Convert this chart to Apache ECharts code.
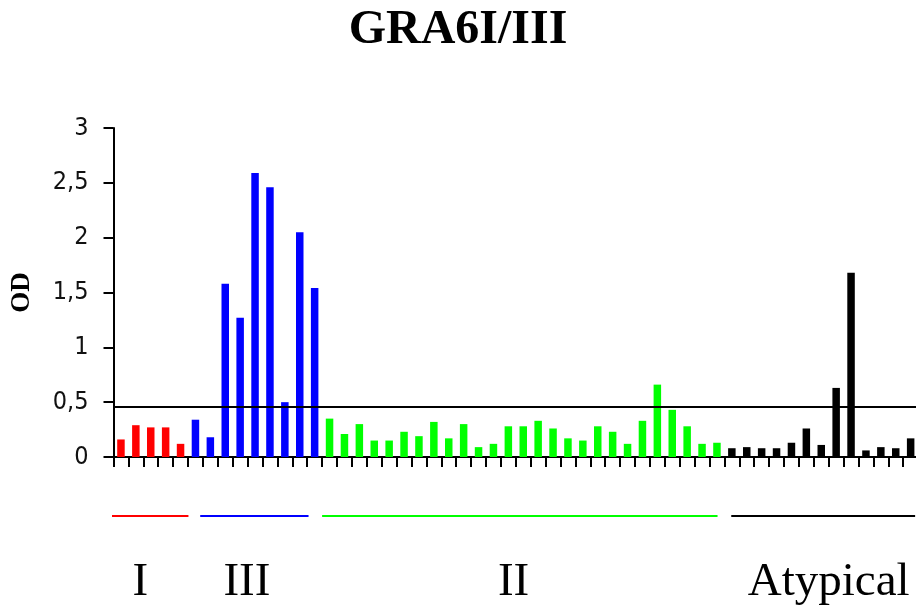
<!DOCTYPE html>
<html>
<head>
<meta charset="utf-8">
<script src="https://cdn.jsdelivr.net/npm/echarts@6/dist/echarts.min.js"></script>
<style>html,body{margin:0;padding:0;background:#fff}#c{width:916px;height:609px}</style>
</head>
<body>
<div id="c"></div>
<script>
// ---- data ----
const title = 'GRA6I/III';
const yName = 'OD';
const groupNames = ['I', 'III', 'II', 'Atypical'];
const groupColors = ['#ff0000', '#0000ff', '#00ff00', '#000000'];
const groupI = [0.16, 0.29, 0.27, 0.27, 0.12];
const groupIII = [0.34, 0.18, 1.58, 1.27, 2.59, 2.46, 0.50, 2.05, 1.54];
const groupII = [0.35, 0.21, 0.30, 0.15, 0.15, 0.23, 0.19, 0.32, 0.17, 0.30,
                 0.09, 0.12, 0.28, 0.28, 0.33, 0.26, 0.17, 0.15, 0.28, 0.23,
                 0.12, 0.33, 0.66, 0.43, 0.28, 0.12, 0.13];
const groupAtypical = [0.08, 0.09, 0.08, 0.08, 0.13, 0.26, 0.11, 0.63, 1.68, 0.06, 0.09, 0.08, 0.17];
const threshold = 0.462;
const yTicks = { min: 0, max: 3, interval: 0.5 };
// bracket extents below the axis, in category units (from axis start)
const bracketStart = [-0.2, 5.82, 14.0, 41.46];
const bracketEnd = [5.03, 13.09, 40.54, 53.8];
const groupLabelPos = [1.8, 8.95, 26.85, 48.0];

// ---- build ----
const groups = [groupI, groupIII, groupII, groupAtypical];
const categories = [];
const barData = [];
groups.forEach((g, gi) => {
  g.forEach((v, i) => {
    categories.push(groupNames[gi] + '-' + (i + 1));
    barData.push({ value: v, itemStyle: { color: groupColors[gi] } });
  });
});
const nCat = categories.length;

const gridLeft = 113.5, cellW = 14.9;
const chart = echarts.init(document.getElementById('c'), null, { renderer: 'canvas' });

const bracketSeries = groupNames.map((n, gi) => ({
  type: 'line', xAxisIndex: 1, yAxisIndex: 1, silent: true,
  symbol: 'none', animation: false,
  data: [[bracketStart[gi], 16], [bracketEnd[gi], 16]],
  lineStyle: { color: groupColors[gi], width: 2 }
}));

chart.setOption({
  animation: false,
  backgroundColor: '#ffffff',
  title: {
    text: title, left: 'center', top: 2,
    textStyle: { fontFamily: "'Liberation Serif','Times New Roman',serif", fontWeight: 'bold', fontSize: 48, color: '#000' }
  },
  grid: [
    { left: gridLeft, top: 128, width: nCat * cellW, height: 329, containLabel: false, outerBoundsMode: 'none' },
    { left: gridLeft, top: 500, width: nCat * cellW, height: 100, containLabel: false, outerBoundsMode: 'none' }
  ],
  xAxis: [
    {
      type: 'category', data: categories, gridIndex: 0, boundaryGap: true,
      axisLine: { lineStyle: { color: '#000', width: 2 } },
      axisTick: { show: true, length: 10, interval: 0, lineStyle: { color: '#000', width: 2 } },
      axisLabel: { show: false }, splitLine: { show: false }
    },
    { type: 'value', gridIndex: 1, min: 0, max: nCat, show: false }
  ],
  yAxis: [
    {
      type: 'value', gridIndex: 0, min: yTicks.min, max: yTicks.max, interval: yTicks.interval,
      name: yName, nameLocation: 'middle', nameRotate: 90, nameGap: 78,
      nameTextStyle: { fontFamily: "'Liberation Serif','Times New Roman',serif", fontWeight: 'bold', fontSize: 27, color: '#000' },
      axisLine: { show: true, lineStyle: { color: '#000', width: 2 } },
      axisTick: { show: true, length: 10, lineStyle: { color: '#000', width: 2 } },
      axisLabel: {
        margin: 25, color: '#111', fontSize: 25,
        fontFamily: "'Liberation Sans Narrow','DejaVu Sans Condensed',sans-serif",
        formatter: v => String(v).replace('.', ',')
      },
      splitLine: { show: false }
    },
    { type: 'value', gridIndex: 1, min: 0, max: 100, inverse: true, show: false }
  ],
  series: [
    {
      type: 'bar', xAxisIndex: 0, yAxisIndex: 0, data: barData, barWidth: 7.5,
      markLine: {
        silent: true, symbol: 'none', label: { show: false },
        lineStyle: { color: '#000', width: 2, type: 'solid' },
        data: [{ yAxis: threshold }]
      }
    },
    ...bracketSeries,
    {
      type: 'scatter', xAxisIndex: 1, yAxisIndex: 1, symbolSize: 0, silent: true,
      itemStyle: { opacity: 1 },
      data: groupNames.map((n, gi) => ({ value: [groupLabelPos[gi], 83], name: n })),
      label: {
        show: true, position: 'inside', formatter: p => p.name, color: '#000', opacity: 1,
        fontFamily: "'Liberation Serif','Times New Roman',serif", fontSize: 47
      }
    }
  ]
});
</script>
</body>
</html>
